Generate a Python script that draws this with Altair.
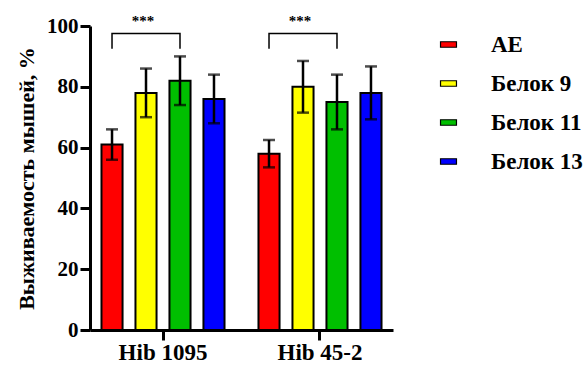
import altair as alt
import pandas as pd

# Survival of mice (%) per strain and preparation
strains = ["Hib 1095", "Hib 45-2"]
series = ["АЕ", "Белок 9", "Белок 11", "Белок 13"]
colors = ["#ff0000", "#ffff00", "#00bf00", "#0000ff"]
means = [[61, 78, 82, 76], [58, 80, 75, 78]]
errors = [[5, 8, 8, 8], [4.5, 8.5, 9, 8.7]]

# significance brackets: strain, from-series, to-series, leg bottom, top, label
bracket_strain = ["Hib 1095", "Hib 45-2"]
bracket_from = ["АЕ", "АЕ"]
bracket_to = ["Белок 11", "Белок 11"]
bracket_low = [92.5, 92.5]
bracket_high = [97.5, 97.5]
bracket_label = ["***", "***"]

rows = []
for i, s in enumerate(strains):
    for j, name in enumerate(series):
        m, e = means[i][j], errors[i][j]
        rows.append({"strain": s, "series": name, "value": m, "lo": m - e, "hi": m + e})
df = pd.DataFrame(rows)

brows, trows = [], []
for k, s in enumerate(bracket_strain):
    pts = [(bracket_from[k], bracket_low[k]), (bracket_from[k], bracket_high[k]),
           (bracket_to[k], bracket_high[k]), (bracket_to[k], bracket_low[k])]
    for o, (name, y) in enumerate(pts):
        brows.append({"strain": s, "series": name, "y": y, "ord": o, "bid": k})
    trows.append({"strain": s, "series": "Белок 9", "y": bracket_high[k], "label": bracket_label[k]})
bdf = pd.DataFrame(brows)
tdf = pd.DataFrame(trows)

FONT = "Liberation Serif"

x_enc = alt.X("strain:N", sort=strains,
              scale=alt.Scale(paddingInner=0.134, paddingOuter=0.032),
              axis=alt.Axis(title=None, labelAngle=0))
xoff = alt.XOffset("series:N", sort=series,
                   scale=alt.Scale(paddingInner=0.38, paddingOuter=0.19))
y_scale = alt.Scale(domain=[0, 100], nice=False)

bars = alt.Chart(df).mark_bar(stroke="black", strokeWidth=2).encode(
    x=x_enc,
    xOffset=xoff,
    y=alt.Y("value:Q", scale=y_scale,
            axis=alt.Axis(title="Выживаемость мышей, %", values=[0, 20, 40, 60, 80, 100])),
    color=alt.Color("series:N", sort=series,
                    scale=alt.Scale(domain=series, range=colors),
                    legend=alt.Legend(title=None, orient="none", legendX=347, legendY=7)),
)

err_rule = alt.Chart(df).mark_rule(color="black", strokeWidth=2.5).encode(
    x=alt.X("strain:N", sort=strains), xOffset=xoff,
    y=alt.Y("lo:Q", scale=y_scale), y2="hi:Q",
)
err_hi = alt.Chart(df).mark_tick(color="black", thickness=2.5, size=12).encode(
    x=alt.X("strain:N", sort=strains), xOffset=xoff,
    y=alt.Y("hi:Q", scale=y_scale),
)
err_lo = alt.Chart(df).mark_tick(color="black", thickness=2.5, size=12).encode(
    x=alt.X("strain:N", sort=strains), xOffset=xoff,
    y=alt.Y("lo:Q", scale=y_scale),
)

brackets = alt.Chart(bdf).mark_line(color="black", strokeWidth=1.5).encode(
    x=alt.X("strain:N", sort=strains), xOffset=xoff,
    y=alt.Y("y:Q", scale=y_scale),
    detail="bid:N", order="ord:Q",
)
stars = alt.Chart(tdf).mark_text(font=FONT, fontSize=15, fontWeight="bold",
                                 color="black", dy=-13, dx=-3).encode(
    x=alt.X("strain:N", sort=strains), xOffset=xoff,
    y=alt.Y("y:Q", scale=y_scale),
    text="label:N",
)

chart = alt.layer(bars, err_rule, err_hi, err_lo, brackets, stars).properties(
    width=303, height=304,
    autosize=alt.AutoSizeParams(type="none"),
    padding={"left": 90, "top": 26, "right": 192, "bottom": 35},
).configure(
    background="white", font=FONT
).configure_view(
    stroke=None
).configure_axis(
    labelFont=FONT, labelFontWeight="bold", labelColor="black",
    titleFont=FONT, titleFontSize=22, titleFontWeight="bold", titleColor="black",
    domainColor="black", domainWidth=3, tickColor="black", tickWidth=3, tickSize=10,
    grid=False,
).configure_axisX(
    labelFontSize=23, labelPadding=1,
).configure_axisY(
    labelFontSize=21, labelPadding=2, titlePadding=8,
).configure_legend(
    labelFont=FONT, labelFontSize=23, labelFontWeight="bold", labelColor="black",
    symbolType="M-1.45,-0.5L1.45,-0.5L1.45,0.5L-1.45,0.5Z",
    symbolSize=121, symbolStrokeColor="black", symbolStrokeWidth=1.2, symbolOpacity=1,
    labelOffset=31, rowPadding=15, labelLimit=250,
)

chart.save("out.html", embed_options={"renderer": "svg", "actions": False})
